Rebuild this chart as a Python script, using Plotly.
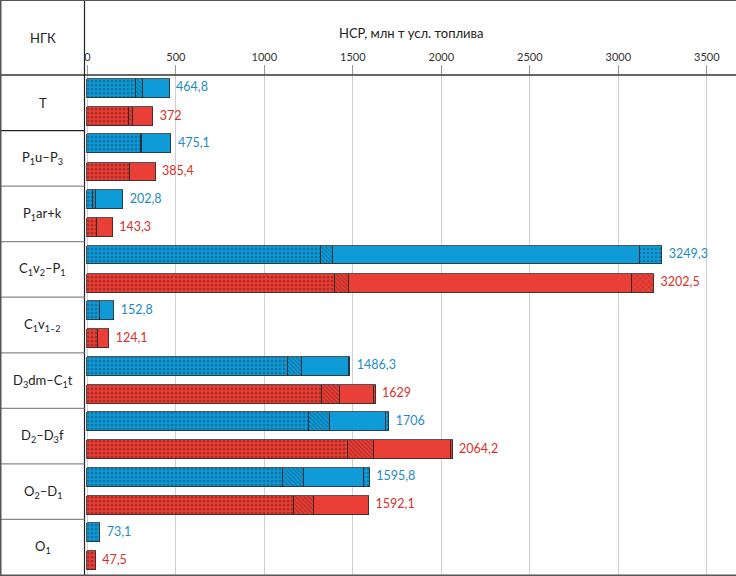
import plotly.graph_objects as go

categories = ["T", "P<sub>1</sub>u–P<sub>3</sub>", "P<sub>1</sub>ar+k", "C<sub>1</sub>v<sub>2</sub>–P<sub>1</sub>",
              "C<sub>1</sub>v<sub>1–2</sub>", "D<sub>3</sub>dm–C<sub>1</sub>t", "D<sub>2</sub>–D<sub>3</sub>f",
              "O<sub>2</sub>–D<sub>1</sub>", "O<sub>1</sub>"]

# segment lengths (млн т усл. топлива)
blue_dotted = [274, 303, 29, 1321, 72, 1136, 1251, 1104, 73.1]
blue_hatched = [38, 7, 19, 68, 0, 75, 117, 119, 0]
blue_solid = [152.8, 165.1, 154.8, 1736, 80.8, 266, 320, 339, 0]
blue_end = [0, 0, 0, 124.3, 0, 9.3, 18, 33.8, 0]
blue_total = [464.8, 475.1, 202.8, 3249.3, 152.8, 1486.3, 1706, 1595.8, 73.1]

red_dotted = [236, 242, 54, 1400, 58, 1325, 1472, 1166, 47.5]
red_hatched = [20, 0, 0, 79, 0, 103, 150, 113, 0]
red_solid = [116, 143.4, 89.3, 1599, 66.1, 191, 433, 313.1, 0]
red_end = [0, 0, 0, 124.5, 0, 10, 9.2, 0, 0]
red_total = [372, 385.4, 143.3, 3202.5, 124.1, 1629, 2064.2, 1592.1, 47.5]

header_left = "НГК"
axis_title = "НСР, млн т усл. топлива"
tick_vals = [0, 500, 1000, 1500, 2000, 2500, 3000, 3500]

BLUE = "#0e9bd8"
BLUE_DARK = "#0b4f78"
RED = "#ea3f36"
RED_DARK = "#7a1a14"
BLUE_TXT = "#1b8cc6"
RED_TXT = "#d9302a"

W, H = 736, 576
ML, MT, MB = 86, 75, 1
PW = W - ML
PH = H - MT - MB

n = len(categories)
y_blue = [i - 0.26 for i in range(n)]
y_red = [i + 0.245 for i in range(n)]
BW = 0.34


def nz(vals):
    return [v if v else None for v in vals]


fig = go.Figure()


def add_series(vals, ys, color, dark, shape, size, solidity):
    if shape:
        pattern = dict(shape=shape, fgcolor=dark, bgcolor=color, size=size, solidity=solidity,
                       fillmode="overlay")
    else:
        pattern = dict(shape="")
    fig.add_trace(go.Bar(
        x=nz(vals), y=ys, orientation="h", width=BW,
        marker=dict(color=color, line=dict(color="#2b2b2b", width=0.8), pattern=pattern),
        showlegend=False, hoverinfo="x",
    ))


add_series(blue_dotted, y_blue, BLUE, BLUE_DARK, ".", 4, 0.45)
add_series(blue_hatched, y_blue, BLUE, BLUE_DARK, "\\", 3, 0.4)
add_series(blue_solid, y_blue, BLUE, BLUE_DARK, "", 4, 0.3)
add_series(blue_end, y_blue, BLUE, BLUE_DARK, ".", 4, 0.3)
add_series(red_dotted, y_red, RED, RED_DARK, ".", 4, 0.45)
add_series(red_hatched, y_red, RED, RED_DARK, "\\", 3, 0.4)
add_series(red_solid, y_red, RED, RED_DARK, "", 4, 0.3)
add_series(red_end, y_red, RED, RED_DARK, "x", 4, 0.25)


def fmt(v):
    s = ("%.1f" % v).rstrip("0").rstrip(".")
    return s.replace(".", ",")


fig.add_trace(go.Scatter(
    x=blue_total, y=y_blue, mode="text", text=["  " + fmt(v) for v in blue_total],
    textposition="middle right", textfont=dict(color=BLUE_TXT, size=12.5, family="Lato"),
    showlegend=False, hoverinfo="skip"))
fig.add_trace(go.Scatter(
    x=red_total, y=y_red, mode="text", text=["  " + fmt(v) for v in red_total],
    textposition="middle right", textfont=dict(color=RED_TXT, size=12.5, family="Lato"),
    showlegend=False, hoverinfo="skip"))

xl = -ML / PW  # paper x of figure left edge
ytop = 1 + MT / PH
ybot = -MB / PH

shapes = []
# header bottom line
shapes.append(dict(type="line", xref="paper", yref="paper", x0=xl, x1=1, y0=1, y1=1,
                   line=dict(color="#333333", width=1.5)))
# left column divider
shapes.append(dict(type="line", xref="paper", yref="paper", x0=-1.5 / PW, x1=-1.5 / PW, y0=ybot, y1=ytop,
                   line=dict(color="#222222", width=1.2)))
# row separators in the label column
for i in range(n - 1):
    shapes.append(dict(type="line", xref="paper", yref="y", x0=xl, x1=-1.5 / PW, y0=i + 0.5, y1=i + 0.5,
                       line=dict(color="#222222" if i == 0 else "#8a8a8a", width=1.2)))
# outer frame: top, left, bottom
shapes.append(dict(type="line", xref="paper", yref="paper", x0=xl, x1=1, y0=ytop, y1=ytop,
                   line=dict(color="#555555", width=2)))
shapes.append(dict(type="line", xref="paper", yref="paper", x0=xl + 0.5 / PW, x1=xl + 0.5 / PW, y0=ybot, y1=ytop,
                   line=dict(color="#555555", width=2)))
shapes.append(dict(type="line", xref="paper", yref="paper", x0=xl, x1=1, y0=ybot + 0.5 / PH, y1=ybot + 0.5 / PH,
                   line=dict(color="#555555", width=2)))

annotations = []
for i, c in enumerate(categories):
    annotations.append(dict(text=c, xref="paper", yref="y", x=xl + 43 / PW, y=i, xanchor="center",
                            yanchor="middle", showarrow=False,
                            font=dict(family="Lato", size=13, color="#222222")))
annotations.append(dict(text=header_left, xref="paper", yref="paper", x=xl + 43 / PW, y=1 + 37 / PH,
                        xanchor="center", yanchor="middle", showarrow=False,
                        font=dict(family="Lato", size=13, color="#222222")))
annotations.append(dict(text=axis_title, xref="paper", yref="paper", x=0.5, y=1 + 42 / PH,
                        xanchor="center", yanchor="middle", showarrow=False,
                        font=dict(family="Lato", size=13, color="#222222")))

fig.update_layout(
    width=W, height=H, margin=dict(l=ML, r=0, t=MT, b=MB),
    barmode="stack", bargap=0,
    plot_bgcolor="white", paper_bgcolor="white",
    shapes=shapes, annotations=annotations,
    xaxis=dict(side="top", range=[-8, 3665], tickvals=tick_vals, ticks="outside", ticklen=9,
               tickcolor="#9a9a9a", tickwidth=1, showgrid=True, gridcolor="#cfcfcf", gridwidth=1,
               zeroline=False, showline=False, automargin=False,
               tickfont=dict(family="Lato", size=11, color="#333333")),
    yaxis=dict(range=[n - 0.5, -0.5], showticklabels=False, showgrid=False, zeroline=False,
               ticks="", showline=False, automargin=False),
    font=dict(family="Lato"),
)

fig.write_html("out.html", config={"displayModeBar": False},
               post_script="document.body.style.margin='0';document.body.style.padding='0';")
